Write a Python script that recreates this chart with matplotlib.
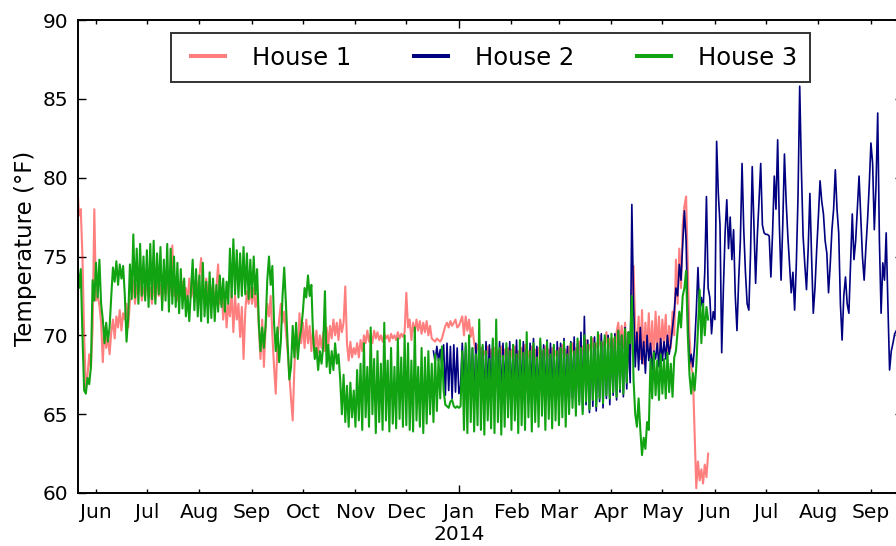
import matplotlib

matplotlib.use("Agg")

import matplotlib.dates as mdates
import matplotlib.pyplot as plt
import numpy as np

# Daily readings, one value per day from the start date.
HOUSE1_START = "2013-05-21"
house1_temps = [
    79.5, 77.6, 78.0, 75.0, 70.0, 66.6, 67.5, 68.8, 67.9, 70.5, 78.0,  # May
    72.2, 72.5, 71.9, 70.8, 68.3, 70.5, 69.2, 70.0, 68.8, 70.2, 71.0, 69.8, 71.2, 70.5, 71.6,
    70.3, 71.4, 71.0, 72.0, 70.5, 72.2, 72.4, 73.5, 72.0, 73.2, 72.6, 73.8, 72.2, 73.0, 72.5,  # Jun
    73.6, 72.4, 73.0, 72.0, 73.4, 72.3, 73.8, 72.5, 73.2, 72.1, 73.5, 72.6, 74.0, 72.4, 73.2, 75.7,
    72.5, 73.5, 72.2, 73.0, 72.6, 73.4, 72.4, 73.0, 72.2, 73.6, 72.4, 73.2, 72.1, 73.5, 72.8,  # Jul
    73.8, 74.9, 73.0, 72.4, 73.6, 72.2, 73.4, 72.5, 73.2, 72.0, 73.0, 74.5, 72.0, 73.0, 71.0, 72.6,
    70.5, 72.0, 71.2, 72.8, 70.2, 72.5, 71.0, 72.0, 69.9, 71.8, 68.5, 71.5, 72.8, 72.0, 73.0,  # Aug
    72.0, 73.0, 71.8, 72.6, 70.5, 68.5, 71.0, 68.0, 70.5, 72.0, 71.2, 72.5, 70.0, 68.0, 66.3,
    69.5, 71.0, 72.0, 70.8, 71.5, 70.2, 69.0, 67.5, 66.0, 64.6, 68.0, 70.2, 68.9, 71.4, 69.5,  # Sep
    70.8, 69.2, 71.0, 69.5, 70.6, 69.0, 70.4, 69.0, 70.3, 68.9, 70.0, 69.2, 70.2, 69.0, 70.5, 69.4,
    70.6, 69.8, 71.0, 70.0, 70.8, 69.7, 71.0, 70.2, 70.8, 73.1, 69.5, 68.4, 69.6, 68.6, 69.2,  # Oct
    68.8, 69.5, 68.6, 69.7, 69.0, 70.0, 69.5, 70.3, 69.6, 70.1, 69.5, 70.3, 69.8, 70.2, 69.7,
    70.0, 69.6, 70.1, 69.8, 70.0, 69.6, 70.1, 69.8, 70.0, 69.7, 70.2, 69.8, 70.1, 69.9, 70.2,  # Nov
    72.7, 70.5, 71.0, 69.7, 70.8, 70.2, 71.0, 70.3, 70.9, 70.1, 70.8, 70.2, 70.9, 70.0, 70.6, 69.8,
    69.7, 69.6, 69.8, 69.7, 69.6, 69.8, 70.2, 70.6, 70.8, 70.5, 70.9, 70.6, 70.8, 71.0, 70.5,  # Dec
    70.6, 70.9, 71.2, 70.0, 71.2, 70.3, 71.0, 69.9, 70.5, 69.5, 69.0, 69.4, 68.8, 69.2, 68.6, 69.0,
    68.7, 69.3, 68.6, 69.1, 68.5, 69.2, 68.4, 69.0, 68.6, 69.3, 68.5, 69.1, 68.7, 69.2, 68.5,  # Jan
    69.1, 68.4, 69.3, 68.6, 69.0, 68.3, 69.2, 68.7, 69.4, 68.5, 69.0, 68.4, 69.3, 68.6,
    69.1, 68.3, 69.2, 68.8, 69.0, 68.5, 69.3, 68.4, 69.1, 68.7, 69.2, 68.5, 69.0, 68.6,  # Feb
    69.2, 68.5, 69.4, 68.7, 69.1, 68.4, 69.3, 68.8, 69.5, 68.6, 69.2, 68.9, 69.6, 68.7, 69.3, 69.0,
    69.7, 68.8, 69.4, 69.1, 69.8, 68.9, 69.5, 69.2, 70.0, 69.0, 69.6, 69.3, 70.2, 69.1, 69.8,  # Mar
    69.0, 69.8, 68.7, 70.2, 70.8, 69.4, 70.6, 69.2, 70.8, 68.6, 69.5, 68.8, 72.0, 74.4, 70.5,
    69.0, 71.2, 68.5, 71.6, 68.2, 70.8, 69.0, 71.4, 68.6, 70.9, 68.4, 71.5, 69.0, 71.2, 68.8,  # Apr
    71.0, 69.5, 71.3, 68.7, 70.6, 69.2, 71.5, 70.0, 74.8, 72.0, 75.5, 73.0, 77.0, 78.2,
    78.8, 74.5, 70.0, 68.0, 67.5, 64.0, 60.3, 62.0, 60.8, 61.5, 60.6, 61.8, 61.0, 62.5,  # May
]

HOUSE2_START = "2013-12-17"
house2_temps = [
    69.0, 68.3, 69.3, 68.4, 69.1, 68.0, 69.4, 66.2, 69.5, 66.5, 69.3, 66.0, 69.4, 66.4, 69.2,  # Dec
    66.3, 66.8, 69.5, 66.8, 69.3, 66.0, 69.6, 66.5, 69.2, 65.8, 69.5, 66.4, 69.7, 66.1, 69.3, 65.9,
    69.6, 66.6, 69.4, 66.2, 69.7, 65.8, 69.3, 66.4, 69.6, 66.0, 69.5, 66.7, 69.2, 66.1, 69.6,  # Jan
    65.9, 69.4, 66.3, 69.7, 65.8, 69.3, 66.5, 69.6, 66.0, 69.2, 65.7, 69.5, 66.4, 69.8,
    66.1, 69.3, 65.9, 69.6, 66.6, 69.4, 66.2, 69.7, 65.8, 69.5, 66.3, 69.3, 65.9, 69.6,  # Feb
    66.4, 69.5, 65.6, 69.8, 65.9, 69.3, 65.4, 69.6, 66.0, 69.9, 65.3, 69.5, 65.8, 70.2, 65.2, 71.2,
    65.6, 69.7, 65.1, 69.4, 65.5, 69.9, 65.2, 69.6, 65.8, 70.1, 65.4, 69.8, 66.0, 70.0, 65.6,  # Mar
    69.7, 66.2, 70.1, 65.9, 70.3, 66.4, 70.0, 66.1, 70.5, 66.6, 70.2, 67.0, 78.3, 72.0, 68.0,
    70.2, 67.8, 70.5, 68.2, 69.6, 67.6, 70.0, 68.4, 69.5, 67.8, 69.0, 68.5, 69.5, 68.0, 69.8,  # Apr
    68.4, 69.6, 68.5, 70.0, 68.8, 69.5, 70.5, 71.5, 73.0, 72.5, 74.5, 73.5, 75.8, 77.9, 76.0, 71.0,
    68.2, 68.8, 68.0, 69.3, 71.5, 74.3, 71.5, 72.4, 71.6, 74.0, 78.8, 73.0, 72.4, 70.1, 71.5,  # May
    71.0, 82.3, 79.0, 77.0, 68.9, 73.0, 76.5, 78.6, 75.5, 77.5, 74.8, 76.7, 72.5, 70.3, 73.5,
    76.0, 80.9, 76.7, 74.0, 72.0, 71.6, 75.2, 80.7, 77.0, 73.3, 76.3, 78.5, 80.9, 77.0, 76.5,  # Jun
    76.4, 76.4, 76.3, 73.7, 76.5, 80.1, 78.0, 82.4, 77.0, 73.5, 77.0, 81.5, 78.5, 76.3, 74.5, 72.7,
    74.0, 71.6, 74.5, 78.8, 85.8, 80.5, 76.3, 74.5, 72.9, 75.5, 79.0, 75.0, 71.4, 73.0, 75.4,  # Jul
    77.5, 79.8, 78.5, 77.7, 76.0, 75.2, 72.7, 74.5, 76.7, 78.0, 80.5, 78.0, 76.5, 72.0, 69.7, 72.5,
    73.7, 72.0, 71.4, 74.5, 77.7, 74.8, 76.0, 78.0, 80.1, 77.5, 75.0, 73.5, 75.5, 77.3, 79.5,  # Aug
    82.2, 80.9, 76.7, 79.5, 84.1, 76.0, 71.4, 74.6, 73.5, 76.5, 72.0, 67.8, 69.0, 69.5, 70.1,
    70.3,  # Sep
]

HOUSE3_START = "2013-05-21"
house3_temps = [
    74.6, 73.0, 74.2, 70.0, 66.5, 66.3, 67.3, 66.9, 68.0, 73.5, 72.2,  # May
    74.6, 72.4, 74.8, 72.0, 71.0, 69.5, 70.8, 69.6, 70.5, 72.5, 74.3, 73.4, 74.7, 73.2, 74.5,
    73.6, 74.4, 72.5, 69.6, 71.2, 74.5, 72.3, 76.4, 72.4, 75.5, 72.0, 75.8, 72.5, 75.0, 72.2,  # Jun
    75.4, 71.8, 75.8, 72.3, 76.0, 72.0, 75.2, 72.6, 75.6, 71.6, 74.8, 72.2, 75.8, 71.5, 75.5, 72.0,
    75.0, 71.8, 74.6, 71.4, 74.2, 71.7, 73.6, 71.2, 72.5, 70.9, 72.8, 74.8, 71.6, 74.2, 71.2,  # Jul
    73.8, 70.9, 74.6, 71.2, 73.4, 70.8, 74.0, 71.1, 73.6, 70.9, 73.2, 71.5, 73.8, 71.8, 73.6, 71.5,
    73.4, 72.0, 75.5, 72.4, 76.1, 72.6, 75.4, 72.4, 75.2, 72.5, 75.6, 72.6, 75.2, 72.3, 74.8,  # Aug
    72.4, 75.0, 72.6, 74.2, 70.8, 69.0, 70.5, 69.2, 70.6, 73.5, 75.0, 73.2, 74.4, 70.8, 69.0,
    70.5, 68.3, 69.6, 72.5, 74.3, 72.0, 69.5, 67.2, 68.0, 70.6, 68.6, 70.8, 68.5, 69.8, 70.4,  # Sep
    71.5, 73.0, 72.4, 73.8, 72.5, 73.2, 70.0, 68.5, 69.2, 67.8, 69.0, 68.2, 69.3, 72.8, 68.0, 69.4,
    67.6, 69.0, 67.8, 69.5, 68.2, 68.8, 67.2, 65.0, 67.5, 64.5, 66.8, 64.2, 67.0, 64.8, 66.5,  # Oct
    64.2, 67.8, 64.6, 68.2, 64.0, 69.5, 64.8, 68.0, 64.2, 70.5, 65.0, 68.5, 63.8, 69.0, 64.5,
    68.2, 64.0, 70.8, 64.6, 68.4, 63.9, 69.2, 64.4, 68.0, 64.1, 69.8, 64.7, 68.6, 64.2, 70.0,  # Nov
    64.3, 69.5, 64.0, 68.4, 63.9, 70.5, 64.6, 68.0, 64.2, 69.2, 63.8, 68.6, 64.4, 69.0, 65.0, 68.2,
    64.5, 68.8, 65.2, 68.5, 66.0, 69.3, 66.5, 65.6, 65.5, 65.4, 65.8, 65.9, 65.5, 65.4, 65.5,  # Dec
    65.4, 65.5, 69.0, 64.0, 69.5, 63.8, 70.0, 64.5, 69.2, 63.9, 68.8, 64.3, 71.0, 64.0, 69.4, 63.7,
    69.0, 64.6, 68.5, 64.1, 69.8, 63.8, 71.0, 64.5, 69.2, 63.7, 68.7, 64.2, 69.5, 64.8, 69.0,  # Jan
    64.0, 69.4, 64.6, 68.8, 63.8, 69.7, 64.3, 68.9, 64.0, 70.2, 64.8, 69.0, 63.9, 69.5,
    64.5, 68.6, 64.2, 69.8, 64.9, 69.1, 64.0, 69.6, 64.7, 68.8, 64.1, 69.4, 64.6, 69.0,  # Feb
    64.3, 69.2, 64.8, 69.6, 64.2, 68.8, 65.0, 69.5, 65.4, 69.0, 64.9, 69.8, 65.6, 69.2, 65.0, 70.0,
    65.8, 69.4, 65.3, 69.9, 65.9, 69.5, 65.5, 70.2, 66.0, 69.6, 65.7, 70.0, 66.2, 69.8, 66.0,  # Mar
    70.1, 66.4, 69.9, 66.1, 70.3, 66.6, 70.0, 66.3, 70.4, 67.0, 70.2, 69.5, 72.5, 67.2, 65.0,
    64.2, 66.0, 64.0, 62.4, 63.5, 62.8, 64.5, 64.0, 68.5, 66.0, 68.9, 66.2, 68.4, 65.9, 68.8,  # Apr
    66.3, 68.5, 66.0, 68.9, 66.4, 68.2, 66.1, 68.6, 69.0, 70.3, 71.5, 70.5, 72.5, 73.0,
    74.1, 70.0, 67.5, 66.3, 67.6, 66.5, 68.0, 70.5, 72.9, 69.5, 72.0, 70.0, 71.8, 71.0,  # May
]

month_starts = [
    "2013-06-01", "2013-07-01", "2013-08-01", "2013-09-01", "2013-10-01", "2013-11-01",
    "2013-12-01", "2014-02-01", "2014-03-01", "2014-04-01", "2014-05-01", "2014-06-01",
    "2014-07-01", "2014-08-01", "2014-09-01",
]
month_labels = [
    "Jun", "Jul", "Aug", "Sep", "Oct", "Nov", "Dec", "Feb", "Mar", "Apr", "May", "Jun",
    "Jul", "Aug", "Sep",
]
year_start = "2014-01-01"
year_label = "Jan\n2014"


def daily_dates(start: str, count: int) -> np.ndarray:
    return np.datetime64(start) + np.arange(count)


def main() -> None:
    fig = plt.figure(figsize=(8.96, 5.46), dpi=100, facecolor="white")
    # the axes run a little past the right edge of the canvas
    ax = fig.add_axes([78 / 896, 53 / 546, 825 / 896, 473 / 546])

    series = [
        (HOUSE1_START, house1_temps, "House 1", (1.0, 0.0, 0.0, 0.5), 1.5),
        (HOUSE2_START, house2_temps, "House 2", "#000080", 1.2),
        (HOUSE3_START, house3_temps, "House 3", "#12a312", 1.5),
    ]
    for start, temps, label, color, width in series:
        ax.plot(daily_dates(start, len(temps)), temps, color=color, linewidth=width, label=label)

    ax.set_xlim(mdates.datestr2num("2013-05-21 09:00"), mdates.datestr2num("2014-09-19 22:00"))
    ax.set_ylim(60, 90)
    ax.set_yticks(range(60, 91, 5))

    ax.set_xticks([mdates.datestr2num(year_start)], labels=[year_label])
    ax.set_xticks([mdates.datestr2num(d) for d in month_starts], labels=month_labels, minor=True)

    ax.tick_params(axis="both", which="both", direction="in", top=True, right=True,
                   labelsize=14.5, pad=7)
    ax.tick_params(which="major", length=6, width=1)
    ax.tick_params(which="minor", length=3, width=1)
    for spine in ax.spines.values():
        spine.set_linewidth(1.4)

    ax.set_ylabel("Temperature (°F)", fontsize=16.5)
    ax.yaxis.set_label_coords(-0.050, 0.518)

    leg = ax.legend(loc="upper center", ncol=3, fontsize=17.5, numpoints=2, fancybox=False,
                    frameon=True, edgecolor="black", borderpad=0.5, handlelength=2.0,
                    handletextpad=0.8, columnspacing=2.3, borderaxespad=0.55)
    leg.get_frame().set_linewidth(1.4)
    for line in leg.get_lines():
        line.set_linewidth(2.9)

    fig.savefig("out.png", dpi=100, facecolor="white")
    plt.close(fig)


if __name__ == "__main__":
    main()
